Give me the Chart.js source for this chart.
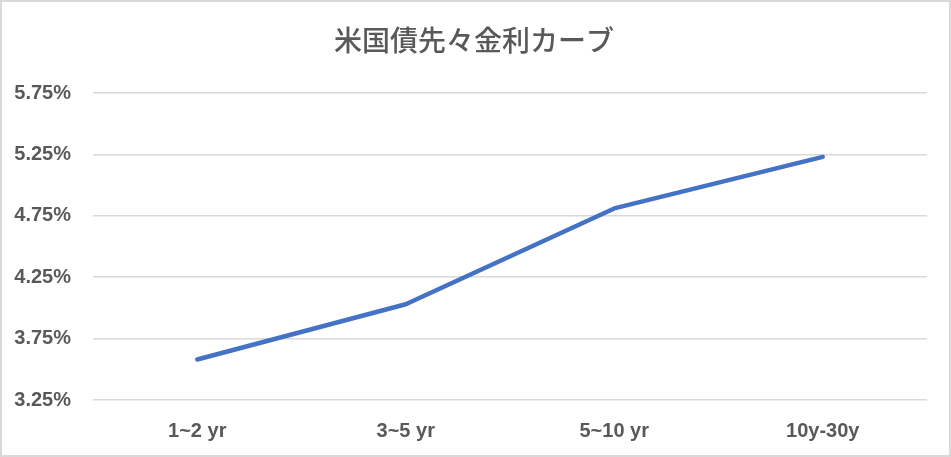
<!DOCTYPE html>
<html>
<head>
<meta charset="utf-8">
<script src="https://cdn.jsdelivr.net/npm/chart.js@4/dist/chart.umd.min.js"></script>
<style>
  html, body { margin: 0; padding: 0; background: #fff; }
  canvas { display: block; }
</style>
</head>
<body>
<canvas id="chart" width="951" height="457"></canvas>
<script>
// forward rates (%)
const categories = ["1~2 yr", "3~5 yr", "5~10 yr", "10y-30y"];
const forwardRates = [3.58, 4.03, 4.81, 5.23];
const chartTitle = "米国債先々金利カーブ";

const grey = "#595959";
const tickFont = { family: "'Liberation Sans', Arial, sans-serif", size: 20, weight: "bold" };

// grey frame round the chart box, and the title centred like Excel does it
const frameAndTitle = {
  id: "frameAndTitle",
  afterDraw(chart) {
    const ctx = chart.ctx;
    ctx.save();
    ctx.strokeStyle = "#d9d9d9";
    ctx.lineWidth = 2;
    ctx.strokeRect(1, 1, chart.width - 2, chart.height - 2);
    ctx.fillStyle = grey;
    ctx.font = "500 28px 'Noto Sans CJK JP', sans-serif";
    ctx.textAlign = "center";
    ctx.textBaseline = "middle";
    ctx.fillText(chartTitle, 474, 40);
    ctx.restore();
  }
};

new Chart(document.getElementById("chart"), {
  type: "line",
  data: {
    labels: categories,
    datasets: [{
      data: forwardRates,
      borderColor: "#4472C4",
      borderWidth: 4.5,
      borderCapStyle: "round",
      borderJoinStyle: "round",
      pointRadius: 0,
      tension: 0
    }]
  },
  options: {
    responsive: false,
    animation: false,
    layout: { padding: { left: 0, right: 24, top: 93, bottom: 0 } },
    plugins: {
      legend: { display: false },
      tooltip: { enabled: false },
      title: { display: false }
    },
    scales: {
      x: {
        offset: true,
        grid: { display: false },
        border: { display: false },
        ticks: { color: grey, font: tickFont, padding: 11, maxRotation: 0 },
        afterFit(s) { s.height = 57; }
      },
      y: {
        min: 3.25,
        max: 5.75,
        grid: { color: "#d9d9d9", lineWidth: 1.5, drawTicks: false },
        border: { display: false },
        ticks: {
          stepSize: 0.5,
          color: grey,
          font: tickFont,
          padding: 22,
          callback: v => v.toFixed(2) + "%"
        },
        afterFit(s) { s.width = 93; }
      }
    }
  },
  plugins: [frameAndTitle]
});
</script>
</body>
</html>
